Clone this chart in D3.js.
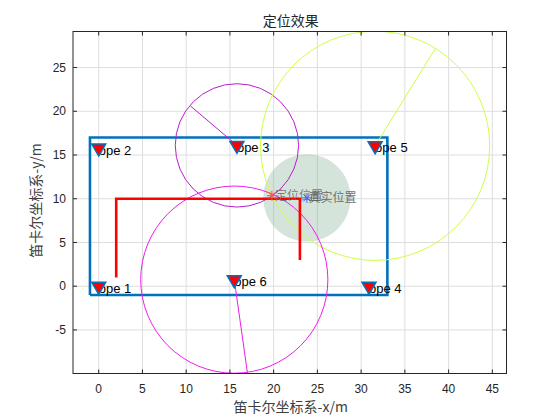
<!DOCTYPE html>
<html><head><meta charset="utf-8">
<script src="https://cdn.jsdelivr.net/npm/d3@7"></script>
<style>body{margin:0;background:#fff}svg{display:block}</style>
</head><body>
<script>
// ---- data ----
const xTicks = [0,5,10,15,20,25,30,35,40,45];
const yTicks = [-5,0,5,10,15,20,25];
const anchorNames = ["ope 1","ope 2","ope 3","ope 4","ope 5","ope 6"];
const anchorX = [0, 0, 15.8, 30.9, 31.6, 15.5];
const anchorY = [0, 15.8, 16.1, 0, 16.05, 0.75];
// range circles: anchor index, radius, radius-line end point
const circleAnchor = [2, 4, 5];
const circleRadius = [7.05, 13.1, 10.7];
const circleEndX = [10.5, 38.5, 17.0];
const circleEndY = [20.6, 27.2, -9.9];
const circleColor = ["#B81ECC", "#CCFF44", "#EE1AEE"];
const roomX = [-1, 33, 33, -1, -1];
const roomY = [-1, -1, 17, 17, -1];
const pathX = [2, 2, 23, 23];
const pathY = [1, 10, 10, 3];
const estX = 19.8, estY = 10.35;
const trueX = 23.8, trueY = 10.1;
const errRadius = 5;

// ---- layout ----
const W = 560, H = 420;
const L = 73, R = 506.5, T = 31.5, B = 373.5;
const x = d3.scaleLinear().domain([-2.94, 46.62]).range([L, R]);
const y = d3.scaleLinear().domain([-9.98, 29.12]).range([B, T]);
const k = x(1) - x(0);

const svg = d3.select("body").append("svg").attr("width", W).attr("height", H);
const latin = "'Liberation Sans', Arial, Helvetica, sans-serif";
const cjk = "'Noto Sans CJK SC', 'Liberation Sans', sans-serif";

svg.append("defs").append("clipPath").attr("id","clip")
  .append("rect").attr("x", L).attr("y", T).attr("width", R-L).attr("height", B-T);

// grid
const grid = svg.append("g").attr("stroke", "#dedede").attr("stroke-width", 1);
xTicks.forEach(t => grid.append("line").attr("x1", x(t)).attr("x2", x(t)).attr("y1", T).attr("y2", B));
yTicks.forEach(t => grid.append("line").attr("y1", y(t)).attr("y2", y(t)).attr("x1", L).attr("x2", R));

const plot = svg.append("g").attr("clip-path", "url(#clip)");

// error circle
plot.append("circle").attr("cx", x(trueX)).attr("cy", y(trueY)).attr("r", errRadius * k)
  .attr("fill", "rgb(120,170,140)").attr("fill-opacity", 0.32);

// room rectangle
const line = d3.line().x(d => x(d[0])).y(d => y(d[1]));
plot.append("path").datum(roomX.map((v,i)=>[v, roomY[i]])).attr("d", line)
  .attr("fill", "none").attr("stroke", "#0072BD").attr("stroke-width", 2.6).attr("stroke-linejoin","miter");

// range circles
circleAnchor.forEach((a, i) => {
  const cx = anchorX[a], cy = anchorY[a];
  plot.append("circle").attr("cx", x(cx)).attr("cy", y(cy)).attr("r", circleRadius[i] * k)
    .attr("fill", "none").attr("stroke", circleColor[i]).attr("stroke-width", 1);
  plot.append("line").attr("x1", x(cx)).attr("y1", y(cy)).attr("x2", x(circleEndX[i])).attr("y2", y(circleEndY[i]))
    .attr("stroke", circleColor[i]).attr("stroke-width", 1);
});

// true path
plot.append("path").datum(pathX.map((v,i)=>[v, pathY[i]])).attr("d", line)
  .attr("fill", "none").attr("stroke", "#FF0000").attr("stroke-width", 2.6);

// star markers
function star(cx, cy, color, s) {
  const g = plot.append("g").attr("stroke", color).attr("stroke-width", 1);
  g.append("line").attr("x1", cx - s).attr("x2", cx + s).attr("y1", cy).attr("y2", cy);
  g.append("line").attr("x1", cx).attr("x2", cx).attr("y1", cy - s).attr("y2", cy + s);
  const d = s * 0.72;
  g.append("line").attr("x1", cx - d).attr("x2", cx + d).attr("y1", cy - d).attr("y2", cy + d);
  g.append("line").attr("x1", cx - d).attr("x2", cx + d).attr("y1", cy + d).attr("y2", cy - d);
}
star(x(estX), y(estY), "#E8603C", 5);
star(x(trueX), y(trueY), "#4466FF", 5);
svg.append("text").attr("x", x(estX) + 3).attr("y", y(estY)).attr("dy", "0.35em")
  .attr("font-family", cjk).attr("font-size", 12).attr("fill", "#6a6a6a").attr("fill-opacity", 0.85).text("定位位置");
svg.append("text").attr("x", x(trueX) + 1.5).attr("y", y(trueY)).attr("dy", "0.35em")
  .attr("font-family", cjk).attr("font-size", 12).attr("fill", "#555").attr("fill-opacity", 0.85).text("真实位置");

// anchor labels and markers
anchorNames.forEach((n, i) => {
  svg.append("text").attr("x", x(anchorX[i])).attr("y", y(anchorY[i]) + 2).attr("dy", "0.35em")
    .attr("font-family", latin).attr("font-size", 13).attr("fill", "#000").text(n);
});
anchorNames.forEach((n, i) => {
  const cx = x(anchorX[i]), cy = y(anchorY[i]) + 1.5;
  svg.append("path").attr("d", `M${cx-7},${cy-5.5}L${cx+7},${cy-5.5}L${cx},${cy+6.5}Z`)
    .attr("fill", "#FF0000").attr("stroke", "#0072BD").attr("stroke-width", 1.5).attr("stroke-linejoin","miter");
});

// axes box + ticks
const ax = svg.append("g").attr("stroke", "#262626").attr("stroke-width", 1).attr("fill", "none");
ax.append("rect").attr("x", L).attr("y", T).attr("width", R-L).attr("height", B-T);
const tl = 4;
xTicks.forEach(t => {
  ax.append("line").attr("x1", x(t)).attr("x2", x(t)).attr("y1", B).attr("y2", B - tl);
  ax.append("line").attr("x1", x(t)).attr("x2", x(t)).attr("y1", T).attr("y2", T + tl);
});
yTicks.forEach(t => {
  ax.append("line").attr("y1", y(t)).attr("y2", y(t)).attr("x1", L).attr("x2", L + tl);
  ax.append("line").attr("y1", y(t)).attr("y2", y(t)).attr("x1", R).attr("x2", R - tl);
});
const lab = svg.append("g").attr("font-family", latin).attr("font-size", 12).attr("fill", "#262626");
xTicks.forEach(t => lab.append("text").attr("x", x(t)).attr("y", B + 15).attr("dy", "0.35em")
  .attr("text-anchor", "middle").text(t));
yTicks.forEach(t => lab.append("text").attr("x", L - 7).attr("y", y(t)).attr("dy", "0.35em")
  .attr("text-anchor", "end").text(t));

// titles
svg.append("text").attr("x", (L+R)/2 + 1).attr("y", 21).attr("dy", "0.35em").attr("text-anchor", "middle")
  .attr("font-family", cjk).attr("font-size", 14).attr("fill", "#262626").text("定位效果");
svg.append("text").attr("x", (L+R)/2 + 1).attr("y", 407).attr("dy", "0.35em").attr("text-anchor", "middle")
  .attr("font-family", cjk).attr("font-size", 14).attr("fill", "#404040").text("笛卡尔坐标系-x/m");
svg.append("text").attr("transform", `translate(36,${(T+B)/2 - 2}) rotate(-90)`).attr("dy", "0.35em")
  .attr("text-anchor", "middle").attr("font-family", cjk).attr("font-size", 14).attr("fill", "#404040")
  .text("笛卡尔坐标系-y/m");
</script>
</body></html>
